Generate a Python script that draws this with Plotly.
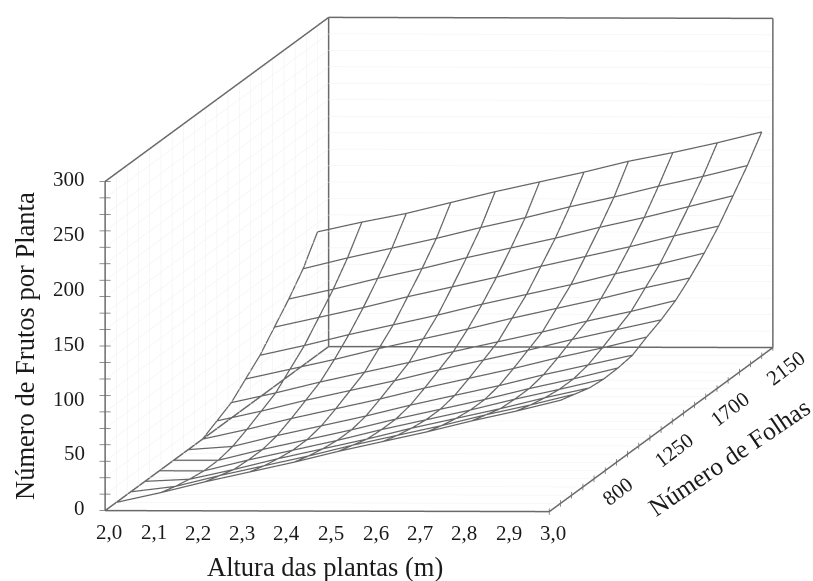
import numpy as np
import plotly.graph_objects as go

altura = [2.0, 2.1, 2.2, 2.3, 2.4, 2.5, 2.6, 2.7, 2.8, 2.9, 3.0]
folhas = [440, 556, 671, 787, 903, 1019, 1134, 1250, 1366, 1481, 1597, 1713, 1829, 1944, 2060]
frutos = [
    [0, 9, 19, 28, 37, 47, 56, 65, 75, 84, 94],
    [0, 5, 15, 24, 33, 43, 52, 61, 71, 80, 90],
    [0, 2, 11, 21, 30, 39, 49, 58, 67, 77, 86],
    [0, 0, 10, 19, 28, 38, 47, 56, 66, 75, 84.5],
    [0, 0, 10, 19, 28, 38, 47, 56, 66, 75, 85],
    [0, 3, 13, 22, 31, 41, 50, 59, 69, 78, 87],
    [0, 9, 19, 28, 37, 47, 56, 65, 75, 84, 94],
    [7, 16, 26, 35, 44, 54, 63, 72, 82, 91, 100],
    [14, 23, 33, 42, 51, 61, 70, 79, 89, 98, 108],
    [26, 35, 44, 54, 63, 72, 82, 91, 100, 110, 119],
    [38, 47, 57, 66, 75, 85, 94, 103, 113, 122, 132],
    [54, 63, 72, 82, 91, 100, 110, 119, 128, 138, 147],
    [70, 79, 89, 98, 108, 117, 126, 136, 145, 155, 165],
    [88, 98, 107, 116, 126, 135, 145, 154, 164, 173, 183],
    [112, 121, 129, 139, 149, 158, 167, 177, 185, 194, 204],
]

x_ticks = [2.0, 2.1, 2.2, 2.3, 2.4, 2.5, 2.6, 2.7, 2.8, 2.9, 3.0]
x_labels = ["2,0", "2,1", "2,2", "2,3", "2,4", "2,5", "2,6", "2,7", "2,8", "2,9", "3,0"]
y_labelled = [800, 1250, 1700, 2150]
y_minor = list(range(350, 2151, 90))
z_labelled = [0, 50, 100, 150, 200, 250, 300]
z_minor = list(range(0, 301, 15))

x_lims = [2.0, 3.0]
y_lims = [350, 2150]
z_lims = [0, 300]
x_range = [1.98, 3.02]
y_range = [340, 2160]
z_range = [-5, 305]

SERIF = "Liberation Serif"
INK = "#1a1a1a"
EDGE = "#6a6a6a"
MESH = "#666666"
GRID = "#efefef"

x0, x1 = x_lims
y0, y1 = y_lims
z0, z1 = z_lims


def segments(pairs):
    xs, ys, zs = [], [], []
    for a, b in pairs:
        xs += [a[0], b[0], None]
        ys += [a[1], b[1], None]
        zs += [a[2], b[2], None]
    return xs, ys, zs


grid_pairs = []
for v in y_minor[1:-1]:
    grid_pairs.append(((x0, v, z0), (x0, v, z1)))
    grid_pairs.append(((x0, v, z0), (x1, v, z0)))
for v in z_minor[1:-1]:
    grid_pairs.append(((x0, y0, v), (x0, y1, v)))
    grid_pairs.append(((x0, y1, v), (x1, y1, v)))

edge_pairs = [
    ((x0, y0, z0), (x1, y0, z0)), ((x1, y0, z0), (x1, y1, z0)),
    ((x1, y1, z0), (x0, y1, z0)), ((x0, y1, z0), (x0, y0, z0)),
    ((x0, y0, z0), (x0, y0, z1)), ((x0, y0, z1), (x0, y1, z1)),
    ((x0, y1, z1), (x1, y1, z1)), ((x0, y1, z0), (x0, y1, z1)),
    ((x1, y1, z0), (x1, y1, z1)),
]
tick_pairs = []
for v in z_minor:
    tick_pairs.append(((x0 - 0.0125, y0, v), (x0 + 0.0125, y0, v)))
for v in y_minor:
    tick_pairs.append(((x1, v, z0 - 3), (x1, v, z0 + 3)))

Z = np.array(frutos, dtype=float)
wx, wy, wz = [], [], []
for k, f in enumerate(folhas):
    wx += altura + [None]
    wy += [f] * len(altura) + [None]
    wz += list(Z[k]) + [None]
for i, h in enumerate(altura):
    wx += [h] * len(folhas) + [None]
    wy += folhas + [None]
    wz += list(Z[:, i]) + [None]

fig = go.Figure()
for pairs, color, width in [(grid_pairs, GRID, 1), (edge_pairs, EDGE, 3), (tick_pairs, EDGE, 1.5)]:
    sx, sy, sz = segments(pairs)
    fig.add_trace(go.Scatter3d(x=sx, y=sy, z=sz, mode="lines", line=dict(color=color, width=width),
                               hoverinfo="skip", showlegend=False))
fig.add_trace(go.Scatter3d(x=wx, y=wy, z=wz, mode="lines", line=dict(color=MESH, width=2.5),
                           hoverinfo="skip", showlegend=False, connectgaps=False))

anns = []
for v, t in zip(x_ticks, x_labels):
    anns.append(dict(x=v, y=y0, z=z0, text=t, showarrow=False, xshift=4, yshift=-22,
                     font=dict(family=SERIF, size=21, color=INK)))
for v in z_labelled:
    anns.append(dict(x=x0, y=y0, z=v, text=str(v), showarrow=False, xanchor="right", xshift=-18, yshift=2,
                     font=dict(family=SERIF, size=21, color=INK)))
for v in y_labelled:
    anns.append(dict(x=x1, y=v, z=z0, text=str(v), showarrow=False, xshift=13, yshift=-21, textangle=-37,
                     font=dict(family=SERIF, size=21, color=INK)))
anns.append(dict(x=2.5, y=y0, z=z0, text="Altura das plantas (m)", showarrow=False, xshift=-2, yshift=-56,
                 font=dict(family=SERIF, size=26.5, color=INK)))
anns.append(dict(x=x0, y=y0, z=150, text="Número de Frutos por Planta", showarrow=False, xshift=-80, textangle=-90,
                 font=dict(family=SERIF, size=26.5, color=INK)))
anns.append(dict(x=x1, y=1250, z=z0, text="Número de Folhas", showarrow=False, xshift=68, yshift=-28, textangle=-34,
                 font=dict(family=SERIF, size=25.5, color=INK)))

axis_common = dict(title=dict(text=""), showticklabels=False, showbackground=False, zeroline=False,
                   showspikes=False, showline=False, showgrid=False, ticks="")

d = 12.0
eye = np.array([0.05527, -0.99761, 0.04065]) * d
fig.update_layout(
    width=813, height=581, margin=dict(l=0, r=0, t=0, b=0), paper_bgcolor="white", showlegend=False,
    scene=dict(
        domain=dict(x=[0.08, 1.0], y=[0.09, 1.0]),
        aspectmode="manual", aspectratio=dict(x=1.7493, y=15.45, z=1.287),
        camera=dict(projection=dict(type="orthographic"), up=dict(x=0, y=0, z=1),
                    center=dict(x=0, y=0, z=0),
                    eye=dict(x=eye[0], y=eye[1], z=eye[2])),
        xaxis=dict(axis_common, range=x_range),
        yaxis=dict(axis_common, range=y_range),
        zaxis=dict(axis_common, range=z_range),
        annotations=anns,
    ),
)
fig.write_html(
    "out.html",
    config=dict(displayModeBar=False),
    post_script="document.body.style.margin='0';document.documentElement.style.overflow='hidden';",
)
